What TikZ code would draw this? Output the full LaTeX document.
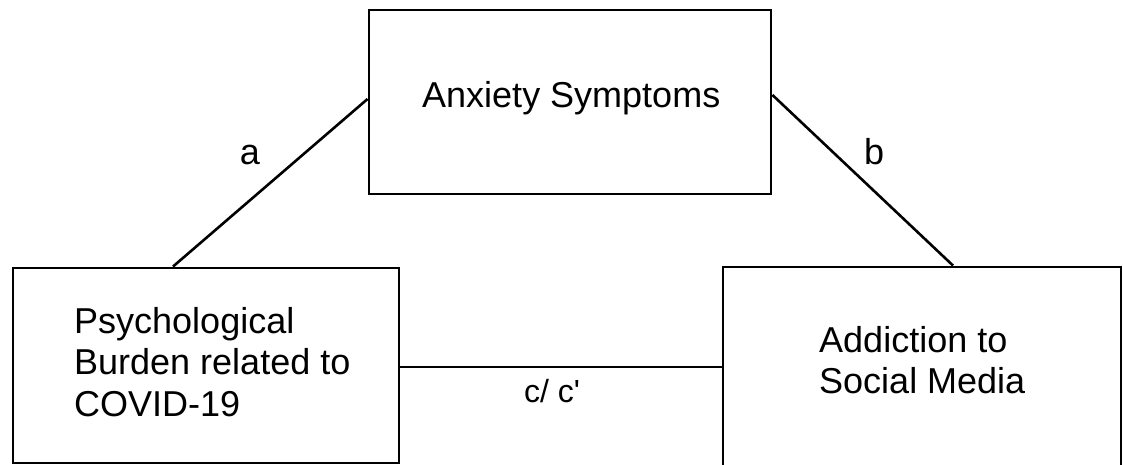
\documentclass[tikz,border=0pt]{standalone}
\usepackage{fontspec}
\setmainfont{Liberation Sans}
\newfontfamily\plainsans{Liberation Sans}
\begin{document}
\begin{tikzpicture}[x=1pt,y=-1pt,
  box/.style={draw=black,line width=2.9pt,rectangle,inner sep=0pt},
  txt/.style={inner sep=0pt,font=\fontsize{36}{41.5}\selectfont},
  lbl/.style={inner sep=0pt,font=\fontsize{36}{40}\selectfont},
  lbls/.style={inner sep=0pt,font=\plainsans\fontsize{32}{36}\selectfont},
  conn/.style={draw=black,line width=2.6pt}]
\useasboundingbox (0,0) rectangle (1123,465);
\fill[white] (0,0) rectangle (1123,465);
% boxes
\node[box,minimum width=402pt,minimum height=184pt] (top) at (570,102) {};
\node[box,minimum width=386pt,minimum height=195pt] (lbox) at (206,365.5) {};
\node[box,minimum width=398pt,minimum height=240pt] (rbox) at (922,387) {};
% texts
\node[txt,anchor=base west] (ttop) at (422,108) {Anxiety Symptoms};
\node[txt,anchor=north west,align=left] (tleft) at (74,307) {Psychological\\Burden related to\\COVID-19};
\node[txt,anchor=north west,align=left] (tright) at (819,326) {Addiction to\\Social Media};
% connectors
\draw[conn] ([yshift=3pt]top.west) -- ([xshift=-33pt]lbox.north);
\draw[conn] ([yshift=7pt]top.east) -- ([xshift=31pt]rbox.north);
\draw[conn] ([yshift=-1.5pt]lbox.east) -- ([yshift=-1.5pt]lbox.east -| rbox.west);
% labels
\node[lbl] (la) at (250,155) {a};
\node[lbl] (lb) at (874,152) {b};
\node[lbls] (lc) at (552,391) {c/ c'};
\end{tikzpicture}
\end{document}
